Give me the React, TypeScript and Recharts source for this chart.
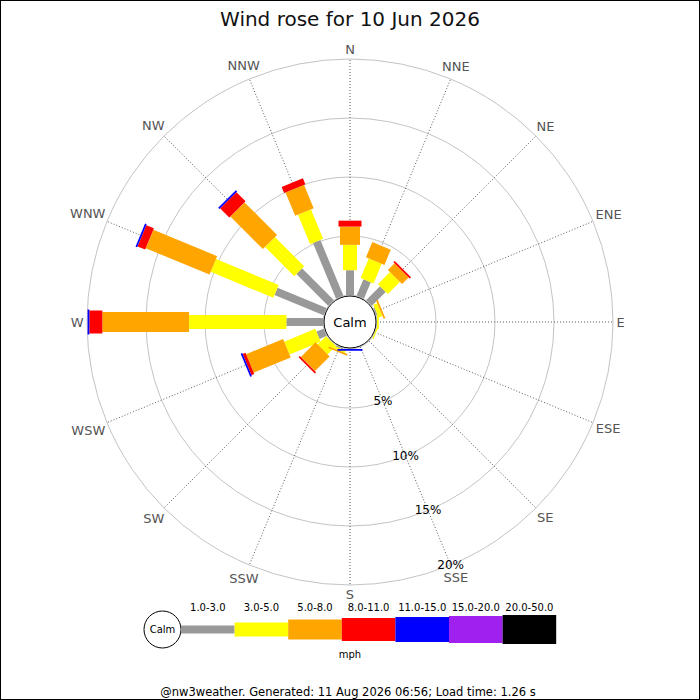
import { Legend, PolarAngleAxis, PolarGrid, PolarRadiusAxis, Radar, RadarChart } from "recharts";

// compass sectors, clockwise from north
const DIRECTIONS = ["N", "NNE", "NE", "ENE", "E", "ESE", "SE", "SSE", "S", "SSW", "SW", "WSW", "W", "WNW", "NW", "NNW"];

// speed bands (mph) and % of the day spent in each, per sector
const BAND_LABELS = ["1.0-3.0", "3.0-5.0", "5.0-8.0", "8.0-11.0", "11.0-15.0", "15.0-20.0", "20.0-50.0"];
const PCT_1_3 = [2.1, 1.5, 1.65, 0.1, 0, 0, 0, 0, 0, 0.1, 0, 0.65, 3.1, 4.5, 3.8, 5.1];
const PCT_3_5 = [2.15, 1.8, 1.45, 0.35, 0.15, 0.1, 0, 0, 0, 0.2, 1.0, 2.85, 8.25, 5.75, 3.5, 2.7];
const PCT_5_8 = [1.55, 1.4, 0.8, 0.15, 0, 0, 0, 0, 0, 0.15, 1.75, 3.4, 7.35, 5.85, 3.9, 2.15];
const PCT_8_11 = [0.5, 0, 0.15, 0, 0, 0, 0, 0, 0, 0, 0.15, 0.25, 1.1, 0.7, 1.1, 0.55];
const PCT_11_15 = [0, 0, 0, 0, 0, 0, 0, 0, 0.15, 0, 0, 0.15, 0.15, 0.15, 0.15, 0];
const PCT_15_20 = [0, 0, 0, 0, 0, 0, 0, 0, 0, 0, 0, 0, 0, 0, 0, 0];
const PCT_20_50 = [0, 0, 0, 0, 0, 0, 0, 0, 0, 0, 0, 0, 0, 0, 0, 0];
const BAND_VALUES = [PCT_1_3, PCT_3_5, PCT_5_8, PCT_8_11, PCT_11_15, PCT_15_20, PCT_20_50];

const RING_DOMAIN: [number, number] = [0, 20];

const TITLE = "Wind rose for 10 Jun 2026";
const FOOTER = "@nw3weather. Generated: 11 Aug 2026 06:56; Load time: 1.26 s";

// styling
const BAND_COLORS = ["#999999", "#ffff00", "#ffa500", "#ff0000", "#0000ff", "#a020f0", "#000000"];
const BAND_WIDTHS = [8, 14, 20, 23, 25, 27, 29];
const FONT = "'DejaVu Sans', sans-serif";
const CX = 350;
const CY = 322;
const INNER = 27;
const OUTER = 263;
// rough DejaVu Sans advance widths at 13px, for centring the compass labels
const GLYPH_W: Record<string, number> = { N: 9.75, E: 8.2, S: 8.25, W: 12.85 };

const BAND_KEYS = BAND_LABELS.map((_, k) => `b${k}`);

// stacked ranges [lower, upper] per band
const rows = DIRECTIONS.map((dir, i) => {
  const row: Record<string, unknown> = { dir };
  let acc = 0;
  BAND_VALUES.forEach((vals, k) => {
    row[BAND_KEYS[k]] = [acc, acc + vals[i]];
    acc += vals[i];
  });
  return row;
});

function bandShape(width: number, color: string) {
  return (props: any) => {
    const pts: any[] = props.points ?? [];
    const base: any[] = props.baseLinePoints ?? [];
    return (
      <g>
        {pts.map((p, i) => {
          const v = p.value as number[];
          if (!Array.isArray(v) || v[1] - v[0] < 1e-6) return null;
          const a = (-p.angle * Math.PI) / 180;
          let bx: number, by: number;
          if (base[i] && base[i].x != null) {
            bx = base[i].x;
            by = base[i].y;
          } else {
            const r0 = INNER + ((p.radius - INNER) * v[0]) / v[1];
            bx = p.cx + r0 * Math.cos(a);
            by = p.cy + r0 * Math.sin(a);
          }
          const nx = (-Math.sin(a) * width) / 2;
          const ny = (Math.cos(a) * width) / 2;
          const poly = [
            [bx + nx, by + ny],
            [p.x + nx, p.y + ny],
            [p.x - nx, p.y - ny],
            [bx - nx, by - ny],
          ];
          return <polygon key={i} points={poly.map((q) => q.join(",")).join(" ")} fill={color} />;
        })}
      </g>
    );
  };
}

function CompassTick(props: any) {
  const { x, y, payload } = props;
  const label = String(payload.value);
  const a = (-payload.coordinate * Math.PI) / 180;
  let w = 0;
  for (const ch of label) w += GLYPH_W[ch] ?? 9;
  const target = 267 + 0.45 * w * Math.abs(Math.cos(a)) + 5.5 * Math.abs(Math.sin(a));
  const d = target - (OUTER + 8);
  return (
    <text
      x={x + d * Math.cos(a)}
      y={y + d * Math.sin(a)}
      textAnchor="middle"
      dominantBaseline="central"
      fontSize={13}
      fontFamily={FONT}
      fill="#555555"
    >
      {label}
    </text>
  );
}

function PctTick(props: any) {
  const { x, y, payload } = props;
  if (!payload || payload.value === 0) return <g />;
  return (
    <text x={x} y={y} textAnchor="middle" dominantBaseline="central" fontSize={12} fontFamily={FONT} fill="#000">
      {`${payload.value}%`}
    </text>
  );
}

function SpeedLegend(props: any) {
  const entries: any[] = [...(props.payload ?? [])].sort(
    (p, q) => BAND_LABELS.indexOf(p.value) - BAND_LABELS.indexOf(q.value),
  );
  const step = 53.6;
  return (
    <svg width={700} height={100} style={{ display: "block" }}>
      <circle cx={162.5} cy={39.5} r={18.5} fill="#fff" stroke="#000" strokeWidth={1} />
      <text x={162.5} y={39.5} textAnchor="middle" dominantBaseline="central" fontSize={10} fontFamily={FONT}>
        Calm
      </text>
      {entries.map((e, i) => {
        const k = BAND_LABELS.indexOf(e.value);
        const h = BAND_WIDTHS[k] ?? 20;
        const x0 = 181 + i * step;
        return (
          <g key={e.value}>
            <rect x={x0} y={39.5 - h / 2} width={step} height={h} fill={e.color} />
            <text x={x0 + step / 2} y={17} textAnchor="middle" dominantBaseline="central" fontSize={10} fontFamily={FONT}>
              {e.value}
            </text>
          </g>
        );
      })}
      <text x={350} y={64} textAnchor="middle" dominantBaseline="central" fontSize={10} fontFamily={FONT}>
        mph
      </text>
    </svg>
  );
}

export default function App() {
  return (
    <div style={{ position: "relative", width: 700, height: 700, background: "#fff" }}>
      <style>{"body{margin:0}"}</style>
      <RadarChart
        width={700}
        height={700}
        data={rows}
        cx={CX}
        cy={CY}
        innerRadius={INNER}
        outerRadius={OUTER}
        margin={{ top: 0, right: 0, bottom: 0, left: 0 }}
      >
        <PolarGrid gridType="circle" radialLines={false} stroke="#b4b4b4" strokeWidth={0.8} />
        <PolarGrid gridType="circle" polarRadius={[]} stroke="#333" strokeWidth={0.8} strokeDasharray="1 2" />
        <PolarAngleAxis dataKey="dir" tick={CompassTick} tickLine={false} axisLine={false} />
        <PolarRadiusAxis
          angle={-67.5}
          type="number"
          domain={RING_DOMAIN}
          tickCount={5}
          axisLine={false}
          tick={false}
        />
        {BAND_KEYS.map((key, k) => (
          <Radar
            key={key}
            name={BAND_LABELS[k]}
            dataKey={key}
            fill={BAND_COLORS[k]}
            stroke={BAND_COLORS[k]}
            dot={false}
            activeDot={false}
            legendType="rect"
            isAnimationActive={false}
            shape={bandShape(BAND_WIDTHS[k], BAND_COLORS[k])}
          />
        ))}
        <PolarRadiusAxis
          angle={-67.5}
          type="number"
          domain={RING_DOMAIN}
          tickCount={5}
          axisLine={false}
          tick={PctTick}
        />
        <circle cx={CX} cy={CY} r={INNER - 1} fill="#fff" stroke="#000" strokeWidth={1} />
        <text x={CX} y={CY} textAnchor="middle" dominantBaseline="central" fontSize={13} fontFamily={FONT}>
          Calm
        </text>
        <text x={350} y={26} textAnchor="middle" fontSize={20} fontFamily={FONT} fill="#111">
          {TITLE}
        </text>
        <text x={348} y={696} textAnchor="middle" fontSize={11.5} fontFamily={FONT} fill="#000">
          {FOOTER}
        </text>
        <Legend
          content={SpeedLegend}
          wrapperStyle={{ position: "absolute", left: 0, top: 590, bottom: "auto", width: 700, height: 100 }}
        />
      </RadarChart>
      <div
        style={{
          position: "absolute",
          inset: 0,
          border: "1px solid #000",
          pointerEvents: "none",
        }}
      />
    </div>
  );
}
